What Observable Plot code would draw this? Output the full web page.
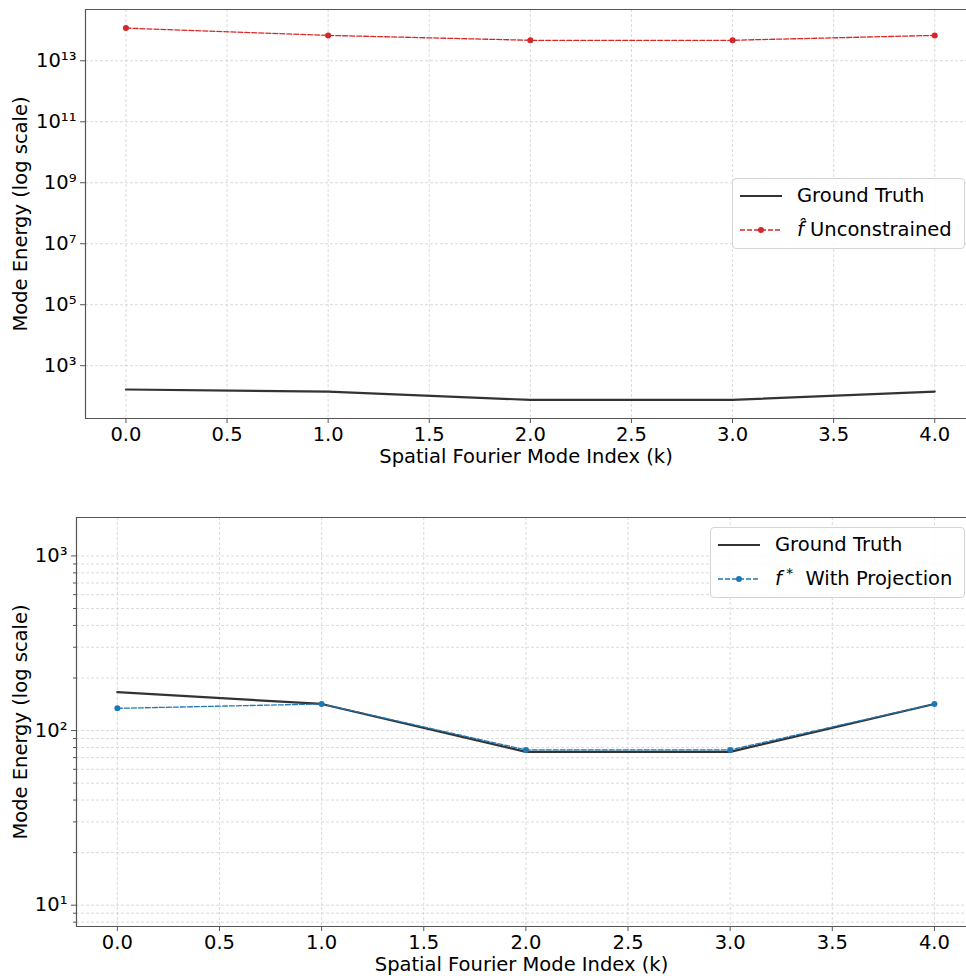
<!DOCTYPE html>
<html><head><meta charset="utf-8">
<script src="https://cdn.jsdelivr.net/npm/d3@7"></script>
<script src="https://cdn.jsdelivr.net/npm/@observablehq/plot@0.6"></script>
<style>
body{margin:0;background:#fff;font-family:"DejaVu Sans",sans-serif;}
#wrap{position:relative;width:966px;height:976px;overflow:hidden;}
#wrap svg{display:block;}
.legend{position:absolute;border:1px solid #d4d4d4;border-radius:4px;background:rgba(255,255,255,0.85);font-size:19.5px;color:#000;box-sizing:border-box;}
.row{position:absolute;left:0;height:24px;white-space:nowrap;}
.row svg{position:absolute;left:6px;top:2px;}
.row .lbl{position:absolute;top:0;left:64px;line-height:24px;}
</style></head><body><div id="wrap"></div>
<script>
const modeIndex=[0,1,2,3,4];
const groundTruth=[166,142,75.5,75.5,142];
const unconstrained=[1.18e14,6.8e13,4.7e13,4.7e13,6.8e13];
const withProjection=[134,142,77.5,77.5,142];
const xTicks=[0,0.5,1,1.5,2,2.5,3,3.5,4];
const topYTicks=[1e3,1e5,1e7,1e9,1e11,1e13];
const bottomYTicks=[10,100,1000];
const bottomMinorTicks=[8,9,20,30,40,50,60,70,80,90,200,300,400,500,600,700,800,900];
const xLabel="Spatial Fourier Mode Index (k)";
const yLabel="Mode Energy (log scale)";

const rows=vals=>modeIndex.map((k,i)=>({k,v:vals[i]}));
const gtRows=rows(groundTruth), redRows=rows(unconstrained), blueRows=rows(withProjection);
const sup={"0":"⁰","1":"¹","2":"²","3":"³","4":"⁴","5":"⁵","6":"⁶","7":"⁷","8":"⁸","9":"⁹","-":"⁻"};
const fmtPow=d=>"10"+String(Math.round(Math.log10(d))).split("").map(c=>sup[c]).join("");

const W=966;
const xDomain=[-0.2,4.157];
const all=groundTruth.concat(unconstrained);
const lo=Math.log10(d3.min(all)), hi=Math.log10(d3.max(all)), pad=0.05*(hi-lo);
const topDomain=[10**(lo-pad),10**(hi+pad)];
const bottomDomain=[d3.min(groundTruth)/10,d3.max(groundTruth)*10];
const grid={stroke:"#d2d2d2",strokeWidth:0.8,strokeDasharray:"3,2",strokeOpacity:1};
const spine={stroke:"#555",strokeWidth:1.2};
const style={fontFamily:"DejaVu Sans",fontSize:"19.5px",color:"#000",background:"white",overflow:"visible"};

const topChart=Plot.plot({
  width:W,height:490,marginTop:9,marginBottom:72,marginLeft:85,marginRight:0,
  style,
  x:{domain:xDomain},
  y:{type:"log",domain:topDomain},
  marks:[
    Plot.gridX(xTicks,grid),
    Plot.gridY(topYTicks,grid),
    Plot.line(gtRows,{x:"k",y:"v",stroke:"#333",strokeWidth:2.2}),
    Plot.line(redRows,{x:"k",y:"v",stroke:"#d62728",strokeWidth:1.3,strokeDasharray:"5,2"}),
    Plot.dot(redRows,{x:"k",y:"v",fill:"#d62728",r:3}),
    Plot.ruleX([xDomain[0]],spine),
    Plot.ruleY(topDomain,spine),
    Plot.axisX(xTicks,{tickSize:5,stroke:"#555",tickFormat:d3.format(".1f"),label:xLabel,labelAnchor:"center",labelOffset:44,labelArrow:"none"}),
    Plot.axisY(topYTicks,{tickSize:5,stroke:"#555",tickFormat:fmtPow,label:yLabel,labelAnchor:"center",labelOffset:72,labelArrow:"none"})
  ]
});

const bottomChart=Plot.plot({
  width:W,height:486,marginTop:27,marginBottom:50,marginLeft:76,marginRight:0,
  style,
  x:{domain:xDomain},
  y:{type:"log",domain:bottomDomain},
  marks:[
    Plot.gridX(xTicks,grid),
    Plot.gridY(bottomMinorTicks,grid),
    Plot.gridY(bottomYTicks,grid),
    Plot.line(gtRows,{x:"k",y:"v",stroke:"#333",strokeWidth:2.2}),
    Plot.line(blueRows,{x:"k",y:"v",stroke:"#1f77b4",strokeWidth:1.3,strokeDasharray:"5,2"}),
    Plot.dot(blueRows,{x:"k",y:"v",fill:"#1f77b4",r:3}),
    Plot.ruleX([xDomain[0]],spine),
    Plot.ruleY(bottomDomain,spine),
    Plot.axisX(xTicks,{tickSize:5,stroke:"#555",tickFormat:d3.format(".1f"),label:xLabel,labelAnchor:"center",labelOffset:44,labelArrow:"none"}),
    Plot.axisY(bottomMinorTicks,{tickSize:3,stroke:"#555",tickFormat:()=>"",label:null}),
    Plot.axisY(bottomYTicks,{tickSize:5,stroke:"#555",tickFormat:fmtPow,label:yLabel,labelAnchor:"center",labelOffset:63,labelArrow:"none"})
  ]
});

const wrap=document.getElementById("wrap");
wrap.appendChild(topChart);
wrap.appendChild(bottomChart);

function sample(color,dashed,dot){
  return `<svg width="44" height="20"><line x1="1" x2="43" y1="10" y2="10" stroke="${color}" stroke-width="${dashed?1.3:2.2}" ${dashed?'stroke-dasharray="5,2"':''}/>${dot?`<circle cx="22" cy="10" r="3" fill="${color}"/>`:''}</svg>`;
}
const hatF=`<i>f&#x0302;</i> Unconstrained`;
const starF=`<i>f</i><sup style="font-size:0.7em;vertical-align:0.55em;line-height:0"> *</sup>&nbsp;&nbsp;With Projection`;
const legends=[
  {left:732,top:178,width:233,height:71,items:[{html:"Ground Truth",color:"#333",dashed:false},{html:hatF,color:"#d62728",dashed:true}]},
  {left:710,top:527,width:255,height:71,items:[{html:"Ground Truth",color:"#333",dashed:false},{html:starF,color:"#1f77b4",dashed:true}]}
];
legends.forEach(L=>{
  const d=document.createElement("div");
  d.className="legend";
  Object.assign(d.style,{left:L.left+"px",top:L.top+"px",width:L.width+"px",height:L.height+"px"});
  d.innerHTML=L.items.map((it,i)=>`<div class="row" style="top:${5+i*34}px;width:100%">${sample(it.color,it.dashed,it.dashed)}<span class="lbl">${it.html}</span></div>`).join("");
  wrap.appendChild(d);
});
</script></body></html>
